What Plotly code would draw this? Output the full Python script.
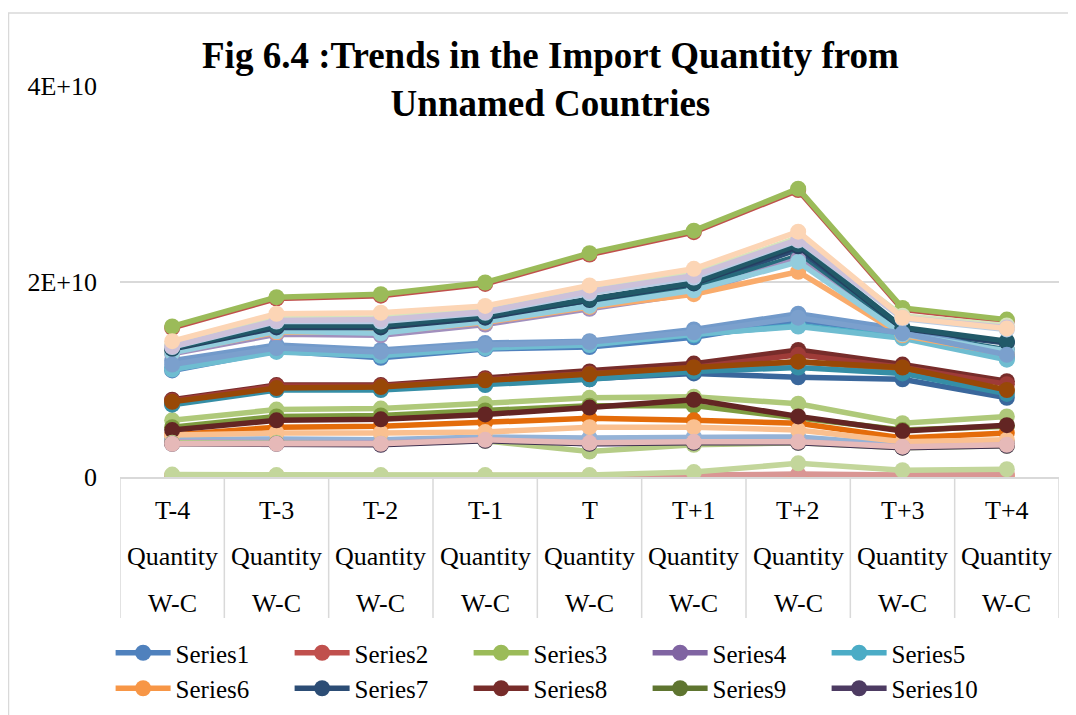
import plotly.graph_objects as go

# categories (x axis, three text rows per category)
periods = ["T-4", "T-3", "T-2", "T-1", "T", "T+1", "T+2", "T+3", "T+4"]
row2 = "Quantity"
row3 = "W-C"

# y axis ticks
y_tickvals = [0, 2e10, 4e10]
y_ticktext = ["0", "2E+10", "4E+10"]

# import quantity per series, in units of 1E+9
s01 = [10.9, 12.9, 12.2, 13.1, 13.3, 14.3, 16.0, 14.8, 12.3]
s02 = [15.25, 18.25, 18.55, 19.75, 22.75, 25.05, 29.35, 17.15, 15.95]
s03 = [15.4, 18.4, 18.7, 19.9, 22.9, 25.2, 29.5, 17.3, 16.1]
s04 = [3.6, 3.6, 3.6, 3.9, 3.7, 3.8, 3.8, 3.2, 3.4]
s05 = [11.2, 13.0, 12.5, 13.3, 13.6, 14.5, 15.5, 14.3, 12.1]
s06 = [0.1, 0.1, 0.1, 0.1, 0.1, 0.15, 0.2, 0.15, 0.15]
s07 = [13.0, 15.2, 15.2, 16.2, 18.0, 19.6, 23.3, 15.0, 13.7]
s08 = [7.9, 9.4, 9.4, 10.1, 10.8, 11.6, 13.0, 11.5, 9.8]
s09 = [3.7, 3.7, 3.6, 4.0, 3.8, 3.9, 3.9, 3.3, 3.5]
s10 = [3.5, 3.5, 3.4, 3.8, 3.5, 3.6, 3.6, 3.1, 3.3]
s11 = [12.9, 15.0, 14.9, 16.0, 17.7, 19.4, 22.6, 14.8, 13.0]
s12 = [7.6, 9.2, 9.1, 9.8, 10.4, 11.0, 11.8, 11.0, 8.8]
s13 = [11.9, 13.5, 13.0, 13.7, 13.9, 15.1, 16.7, 15.1, 12.7]
s14 = [3.5, 3.6, 3.6, 3.9, 3.7, 3.8, 3.8, 3.2, 3.4]
s15 = [5.8, 6.9, 7.0, 7.5, 8.1, 8.2, 7.5, 5.5, 6.2]
s16 = [12.6, 14.6, 14.5, 15.6, 17.2, 18.8, 22.3, 14.4, 12.7]
s17 = [11.0, 12.8, 12.4, 13.2, 13.5, 14.6, 15.4, 14.2, 12.0]
s18 = [12.8, 14.8, 14.8, 15.8, 17.4, 18.7, 21.0, 14.5, 12.6]
s19 = [7.5, 9.0, 9.0, 9.5, 10.0, 10.6, 10.2, 10.0, 8.1]
s20 = [7.8, 9.3, 9.3, 10.0, 10.6, 11.2, 12.5, 11.2, 9.5]
s21 = [5.1, 6.2, 6.3, 6.8, 7.3, 7.3, 6.0, 4.8, 5.2]
s22 = [3.6, 3.5, 3.5, 3.9, 3.6, 3.7, 3.7, 3.2, 3.3]
s23 = [7.4, 8.9, 8.9, 9.4, 10.0, 10.8, 11.2, 10.6, 8.5]
s24 = [4.3, 5.1, 5.2, 5.6, 6.0, 5.8, 5.5, 4.0, 4.5]
s25 = [3.8, 3.9, 3.8, 4.1, 4.0, 4.1, 4.1, 3.3, 3.5]
s26 = [0.1, 0.1, 0.1, 0.1, 0.1, 0.2, 0.3, 0.2, 0.3]
s27 = [0.25, 0.2, 0.2, 0.2, 0.2, 0.5, 1.4, 0.7, 0.8]
s28 = [3.6, 3.5, 3.5, 3.8, 3.4, 3.4, 3.6, 3.1, 3.3]
s29 = [12.7, 14.9, 14.7, 15.9, 17.5, 19.1, 22.0, 14.6, 12.9]
s30 = [4.3, 4.5, 4.5, 4.6, 5.1, 5.1, 4.8, 3.6, 3.8]
s31 = [13.1, 15.3, 15.3, 16.3, 18.1, 19.8, 23.6, 15.2, 13.8]
s32 = [4.8, 5.8, 5.9, 6.4, 7.1, 7.9, 6.2, 4.7, 5.3]
s33 = [3.5, 3.5, 3.4, 3.7, 2.6, 3.3, 3.5, 3.0, 3.2]
s34 = [3.4, 3.4, 3.3, 3.7, 3.4, 3.5, 3.5, 3.0, 3.2]
s35 = [13.2, 15.5, 15.5, 16.5, 18.2, 19.9, 23.8, 15.3, 13.9]
s36 = [7.7, 9.1, 9.2, 9.9, 10.5, 11.2, 11.8, 11.2, 8.9]
s37 = [13.3, 15.9, 15.9, 16.8, 18.8, 20.4, 24.2, 16.2, 15.1]
s38 = [3.4, 3.4, 3.4, 3.8, 3.5, 3.6, 3.6, 3.1, 3.3]
s39 = [13.5, 16.2, 16.3, 17.1, 19.2, 20.8, 24.5, 16.5, 15.5]
s40 = [13.35, 16.0, 16.1, 16.9, 19.0, 20.6, 24.3, 16.3, 15.3]
s41 = [11.5, 13.2, 12.8, 13.5, 13.8, 14.8, 16.3, 14.7, 12.5]
s42 = [13.9, 16.7, 16.8, 17.5, 19.6, 21.3, 25.1, 16.3, 15.2]

series = [s01, s02, s03, s04, s05, s06, s07, s08, s09, s10, s11, s12, s13, s14,
          s15, s16, s17, s18, s19, s20, s21, s22, s23, s24, s25, s26, s27, s28,
          s29, s30, s31, s32, s33, s34, s35, s36, s37, s38, s39, s40, s41, s42]

# Excel 2007 style series palette
palette = [
    "#4F81BD", "#C0504D", "#9BBB59", "#8064A2", "#4BACC6", "#F79646",
    "#2C4D75", "#772C2A", "#5F7530", "#4D3B62", "#276A7C", "#B65708",
    "#729ACA", "#CD7371", "#AFC97A", "#A18FBD", "#6FBDD1", "#F9AB6B",
    "#3A679C", "#9F3B38", "#7E9C40", "#664F83", "#358EA6", "#E46C0A",
    "#95B3D7", "#D99694", "#C3D69B", "#B3A2C7", "#93CDDD", "#FAC090",
    "#254061", "#632523", "#B5CC86", "#3F3151", "#215968", "#984807",
    "#B9CDE5", "#E6B9B8", "#D7E4BD", "#CCC1DA", "#7BA0CD", "#FCD5B5",
]

FONT = "Liberation Serif, Times New Roman, serif"
GRID = "#D9D9D9"

fig = go.Figure()
for i, vals in enumerate(series):
    fig.add_trace(
        go.Scatter(
            x=periods,
            y=[v * 1e9 for v in vals],
            mode="lines+markers",
            name=f"Series{i + 1}",
            line=dict(color=palette[i], width=5.5),
            marker=dict(color=palette[i], size=16),
            showlegend=i < 10,
        )
    )

# plot area (page pixels): x 120..1059, y 86..477; the page adds an 8px body margin
plot_h = 391.0
plot_w = 939.0

annotations = [
    dict(
        text="<b>Fig 6.4 :Trends in the Import Quantity from<br>Unnamed Countries</b>",
        xref="paper", yref="paper", x=(550 - 120) / plot_w, y=(477 - 79) / plot_h,
        xanchor="center", yanchor="middle", showarrow=False,
        font=dict(family=FONT, size=37, color="black"),
    )
]
for p in periods:
    for txt, ypix in [(p, 510), (row2, 556), (row3, 603)]:
        annotations.append(
            dict(text=txt, xref="x", yref="paper", x=p, y=(477 - ypix) / plot_h,
                 xanchor="center", yanchor="middle", showarrow=False,
                 font=dict(family=FONT, size=26, color="black"))
        )

shapes = []
# category dividers below the axis
for k in range(len(periods) + 1):
    shapes.append(
        dict(type="line", xref="x", yref="paper", x0=k - 0.5, x1=k - 0.5,
             y0=0, y1=-(618 - 477) / plot_h, line=dict(color=GRID, width=1.5))
    )
# chart area border
shapes.append(
    dict(type="rect", xref="paper", yref="paper",
         x0=(8.5 - 120) / plot_w, x1=(1085 - 120) / plot_w,
         y0=(477 - 725) / plot_h, y1=(477 - 13) / plot_h,
         line=dict(color=GRID, width=1.5), layer="below")
)

fig.update_layout(
    width=1076,
    height=715,
    paper_bgcolor="white",
    plot_bgcolor="white",
    margin=dict(l=112, r=25, t=78, b=246, autoexpand=False),
    font=dict(family=FONT, size=26, color="black"),
    annotations=annotations,
    shapes=shapes,
    legend=dict(
        orientation="h",
        x=-0.01, y=-(630 - 477) / plot_h,
        xanchor="left", yanchor="top",
        entrywidth=109,
        itemwidth=55,
        font=dict(family=FONT, size=25, color="black"),
        tracegroupgap=0,
    ),
    hovermode="closest",
)
fig.update_xaxes(
    showticklabels=False,
    showgrid=False,
    showline=True,
    linecolor=GRID,
    linewidth=1.5,
    ticks="",
    range=[-0.5, len(periods) - 0.5],
)
fig.update_yaxes(
    range=[0, 4e10],
    tickvals=y_tickvals,
    ticktext=y_ticktext,
    showgrid=True,
    gridcolor=GRID,
    gridwidth=1.5,
    zeroline=False,
    showline=False,
    ticks="",
    ticklabelstandoff=22,
    tickfont=dict(family=FONT, size=26, color="black"),
)

fig.write_html("out.html")
